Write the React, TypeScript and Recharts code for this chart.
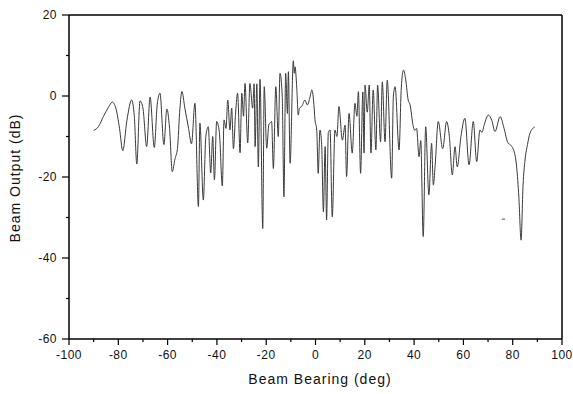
import React from "react";
import { LineChart, Line, XAxis, YAxis, ReferenceLine } from "recharts";

const bearings: number[] = [
  -90, -88, -86, -84, -82.4, -81, -79.5, -78.2, -76.5, -74.6, -73.5, -72.5, -71.2, -70, -68.5, -67.1, -65.4, -64.2, -63.1, -61.5,
  -60.3, -59.2, -58.1, -57, -56, -55, -54.2, -53, -51.5, -50.3, -48.9, -47.5, -46.9, -45.5, -44.5, -43.5, -42.5, -41.7, -41, -40.1,
  -39, -37.8, -37.1, -36.3, -35.6, -34.7, -34, -33.3, -32.4, -31.6, -30.6, -29.9, -29.2, -28.6, -27.5, -26.6, -25.5, -24.9, -24.5, -23.8,
  -23.2, -22.5, -21.4, -20.8, -19.8, -18.9, -18.5, -17.8, -17.1, -16.1, -15.1, -14.4, -13.5, -12.8, -12.1, -11.4, -11, -10.3, -9, -8.6,
  -8.3, -7.6, -7, -6.5, -5.5, -4.3, -3.3, -2.2, -1.5, -0.8, -0.2, 0.5, 1.1, 1.8, 2.5, 3.2, 3.9, 4.5, 5.2, 5.9,
  6.8, 7.9, 8.7, 9.5, 10.9, 12, 12.6, 13.6, 14.9, 16, 16.8, 17.4, 18.3, 19.2, 19.7, 20.1, 21, 21.8, 22.5, 23.4,
  24.5, 25.2, 26.4, 27.1, 28.2, 29.1, 30.9, 31.6, 32.3, 33.9, 34.8, 35.7, 36.6, 37.6, 38.3, 39.7, 40.3, 41, 42, 42.7,
  43.7, 44.7, 46, 47.1, 47.8, 48.5, 49.8, 51.6, 53.2, 54.3, 55.5, 56.6, 57.5, 59, 60.6, 62.3, 64, 65.4, 66.7, 67.5,
  68.5, 70.1, 71.5, 72.8, 74.9, 76.5, 78, 78.9, 80.3, 81.6, 82.5, 83.4, 84.2, 85, 86, 87, 89,
];

const outputs: number[] = [
  -8.5, -7.5, -5, -2.8, -1.5, -3, -8, -13.5, -6, -1, -5, -16.8, -1.2, -3, -12.5, -0.3, -12.7, -2, 0.7, -12,
  -3.2, -8, -18.7, -15.5, -13, -3, 1.1, -3, -8, -11.8, -1.8, -27.3, -6.7, -25.7, -10, -7.6, -19, -10, -20.7, -6.3,
  -9, -22.2, -5.9, -8, -1, -8.4, -3, -13, -4, 0.7, -14, 0.7, -5, 3.1, -11.6, 3.1, -3, 3, -12.5, 3,
  -17.5, 4.1, -32.7, 2.3, -12.9, -7, -6.7, -6.3, -17.9, 2.3, -10, 5.6, 0, -24.9, 5.6, -4.3, 6, -16.6, 8.7, 5.6,
  7.2, 2, -4.7, -3, -2.5, -1, -2.2, -0.2, 1.5, -1, -5.9, -8.4, -19.1, -8.4, -12, -28.6, -12.5, -30.6, -9, -8.4,
  -29.8, -8.4, -10, -2.6, -10.9, -7.2, -19.9, -4.3, -14.1, -1.8, -5, 1.1, -19.1, 1, -14.1, 2.7, -4, 2.7, -14.1, 1.5,
  -13.3, 2.7, -11.3, 3.5, -11.3, 3.9, -20.3, 0, 2.3, -13.3, 2, 6.4, 4, -1, -2, -7.6, -8.5, -8, -15, -11,
  -34.7, -7.6, -24.4, -11.7, -22, -17.5, -6.3, -13, -6.3, -10, -19.5, -12.5, -17.5, -10, -5.5, -17, -6.3, -16.2, -8.4, -9,
  -7, -4.7, -6, -8.8, -5.1, -8, -11.5, -12, -13.2, -17.5, -25, -35.6, -22, -15.8, -12, -9.2, -7.6,
];

const strayBearings: number[] = [75.6, 76.9];
const strayOutputs: number[] = [-30.4, -30.4];

const xTicks: number[] = [-100, -90, -80, -70, -60, -50, -40, -30, -20, -10, 0, 10, 20, 30, 40, 50, 60, 70, 80, 90, 100];
const yTicks: number[] = [-60, -50, -40, -30, -20, -10, 0, 10, 20];

const data = bearings.map((deg, i) => ({ deg, db: outputs[i] }));
const stray = strayBearings.map((deg, i) => ({ deg, db: strayOutputs[i] }));

const FONT = "'Liberation Sans', Arial, sans-serif";

const XTick = (props: any) => {
  const { x, y, payload } = props;
  const v = payload.value;
  const major = v % 20 === 0;
  return (
    <g>
      <line x1={x} y1={y} x2={x} y2={y + (major ? 6 : 3)} stroke="#000" strokeWidth={1.2} />
      {major && (
        <text x={x} y={y + 20} textAnchor="middle" fontSize={12} fontFamily={FONT} fill="#111" letterSpacing={0.5}>
          {v}
        </text>
      )}
    </g>
  );
};

const YTick = (props: any) => {
  const { x, y, payload } = props;
  const v = payload.value;
  const major = v % 20 === 0;
  return (
    <g>
      <line x1={x} y1={y} x2={x - (major ? 7 : 3)} y2={y} stroke="#000" strokeWidth={1.2} />
      {major && (
        <text x={x - 12} y={y + 4} textAnchor="end" fontSize={12} fontFamily={FONT} fill="#111" letterSpacing={0.5}>
          {v}
        </text>
      )}
    </g>
  );
};

export default function App() {
  return (
    <div style={{ position: "fixed", left: 0, top: 0, width: 573, height: 394, background: "#fff" }}>
      <LineChart width={573} height={394} margin={{ top: 15, right: 11, bottom: 0, left: 0 }}>
        <XAxis
          type="number"
          dataKey="deg"
          domain={[-100, 100]}
          ticks={xTicks}
          interval={0}
          allowDataOverflow
          height={55}
          tickSize={0}
          tickMargin={0}
          tickLine={false}
          axisLine={{ stroke: "#000", strokeWidth: 1.5 }}
          tick={<XTick />}
        />
        <YAxis
          type="number"
          dataKey="db"
          domain={[-60, 20]}
          ticks={yTicks}
          interval={0}
          allowDataOverflow
          width={69}
          tickSize={0}
          tickMargin={0}
          tickLine={false}
          axisLine={{ stroke: "#000", strokeWidth: 1.5 }}
          tick={<YTick />}
        />
        <ReferenceLine y={20} stroke="#000" strokeWidth={1.5} ifOverflow="visible" />
        <ReferenceLine x={100} stroke="#000" strokeWidth={1.5} ifOverflow="visible" />
        <Line
          data={data}
          dataKey="db"
          type="monotone"
          stroke="#3a3a3a"
          strokeWidth={1}
          dot={false}
          isAnimationActive={false}
        />
        <Line
          data={stray}
          dataKey="db"
          type="linear"
          stroke="#555"
          strokeWidth={1}
          dot={false}
          isAnimationActive={false}
        />
      </LineChart>
      <svg
        width={573}
        height={394}
        style={{ position: "absolute", left: 0, top: 0, pointerEvents: "none" }}
      >
        <text
          x={320}
          y={384}
          textAnchor="middle"
          fontSize={14}
          fontFamily={FONT}
          fill="#111"
          letterSpacing={1}
        >
          Beam Bearing (deg)
        </text>
        <text
          x={15}
          y={178}
          textAnchor="middle"
          dominantBaseline="central"
          fontSize={14}
          fontFamily={FONT}
          fill="#111"
          letterSpacing={1}
          transform="rotate(-90 15 178)"
        >
          Beam Output (dB)
        </text>
      </svg>
    </div>
  );
}
